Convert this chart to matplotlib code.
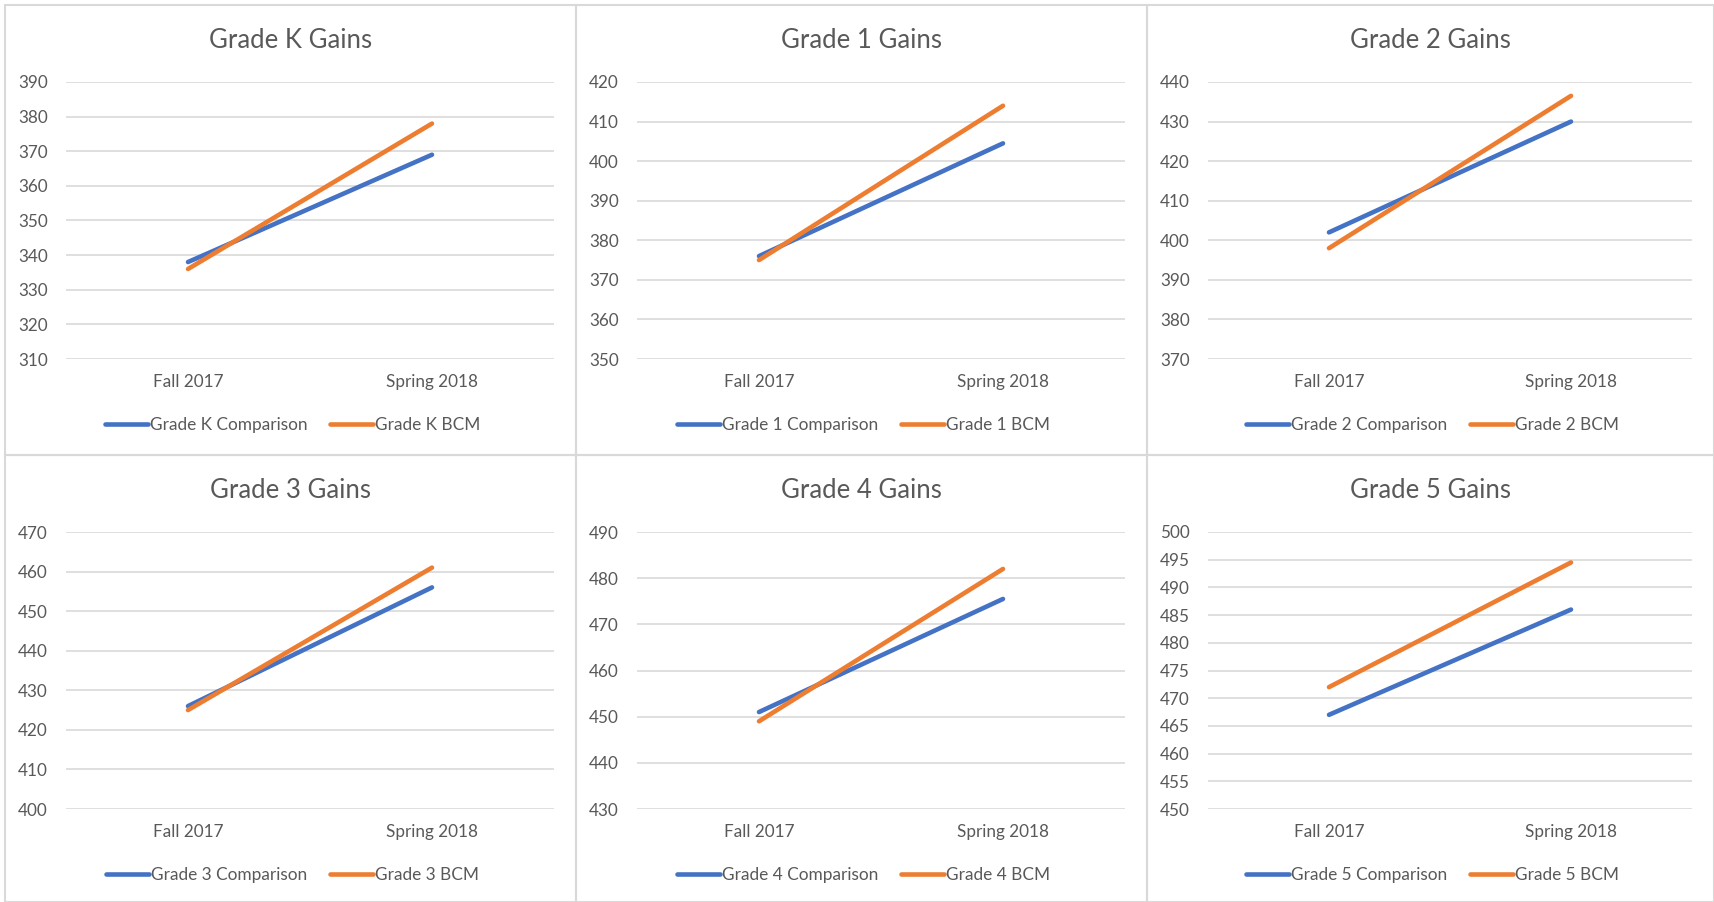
import matplotlib
matplotlib.use("Agg")
import matplotlib.pyplot as plt
from matplotlib.patches import Rectangle

plt.rcParams['font.family'] = ['Lato', 'DejaVu Sans']

# Daten der sechs Diagramme
seasons = ["Fall 2017", "Spring 2018"]
grades = ["K", "1", "2", "3", "4", "5"]
comparison = [
    [338, 369],
    [376, 404.5],
    [402, 430],
    [426, 456],
    [451, 475.5],
    [467, 486],
]
bcm = [
    [336, 378],
    [375, 414],
    [398, 436.5],
    [425, 461],
    [449, 482],
    [472, 494.5],
]
y_ranges = [
    (310, 390, 10),
    (350, 420, 10),
    (370, 440, 10),
    (400, 470, 10),
    (430, 490, 10),
    (450, 500, 5),
]

W, H = 1714, 902
fig = plt.figure(figsize=(W / 100, H / 100), dpi=100)

blue = "#4472C4"
orange = "#ED7D31"
text_col = "#595959"
grid_col = "#D9D9D9"

col_x = [(5, 576), (576, 1147), (1147, 1714)]
row_y = [(5, 455), (455, 902)]

for i, g in enumerate(grades):
    r, c = divmod(i, 3)
    px0, px1 = col_x[c]
    py0, py1 = row_y[r]
    cx = (px0 + px1) / 2

    # Rahmen des Diagramms
    fig.patches.append(Rectangle((px0 / W, 1 - py1 / H), (px1 - px0) / W, (py1 - py0) / H,
                                 transform=fig.transFigure, fill=False,
                                 edgecolor=grid_col, linewidth=1.5))

    left = px0 + 61
    right = px1 - 22
    top = py0 + 77
    bottom = py0 + 354
    ax = fig.add_axes([left / W, 1 - bottom / H, (right - left) / W, (bottom - top) / H])

    lo, hi, step = y_ranges[i]
    l1, = ax.plot(seasons, comparison[i], color=blue, linewidth=3.3, solid_capstyle='round',
                  label=f"Grade {g} Comparison")
    l2, = ax.plot(seasons, bcm[i], color=orange, linewidth=3.3, solid_capstyle='round',
                  label=f"Grade {g} BCM")
    ax.set_xlim(-0.5, 1.5)
    ax.set_ylim(lo, hi)
    ax.set_yticks(range(lo, hi + 1, step))
    ax.grid(axis='y', color=grid_col, linewidth=1.2)
    ax.set_axisbelow(True)
    for s in ax.spines.values():
        s.set_visible(False)
    ax.tick_params(axis='both', length=0, labelsize=12.3, colors=text_col)
    ax.tick_params(axis='y', pad=13)
    ax.tick_params(axis='x', pad=11)

    fig.text(cx / W, 1 - (py0 + 36) / H, f"Grade {g} Gains", fontsize=18.5,
             color=text_col, ha='center', va='center')
    leg = fig.legend(handles=[l1, l2], loc='center',
                     bbox_to_anchor=((cx + 2) / W, 1 - (py0 + 420) / H), ncol=2, frameon=False,
                     fontsize=12.4, handlelength=2.5, handletextpad=0.1, columnspacing=1.3)
    for t in leg.get_texts():
        t.set_color(text_col)

fig.savefig("out.png", dpi=100, facecolor="white")
